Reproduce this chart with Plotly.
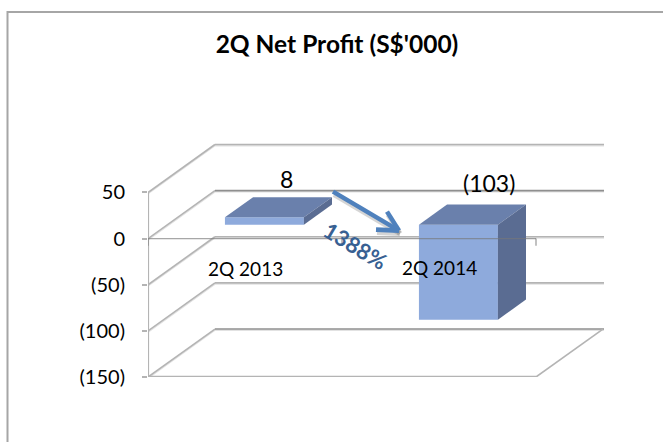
import plotly.graph_objects as go

# ---- data ----
categories = ["2Q 2013", "2Q 2014"]
values = [8, -103]
value_labels = ["8", "(103)"]
tick_values = [50, 0, -50, -100, -150]
tick_labels = ["50", "0", "(50)", "(100)", "(150)"]
title_text = "2Q Net Profit (S$'000)"
change_text = "1388%"

# ---- oblique projection settings (axis units) ----
W, H = 663, 442
DEPTH_X = 0.345      # x shift of back wall
DEPTH_Y = 52.0       # value shift of back wall
BAR_FRONT, BAR_BACK = 0.29, 0.71
BAR_W = 0.407
X_MAX = 2.3505
Y_MIN, Y_MAX = -150, 106.9
FONT = "Lato, Carlito, Calibri, sans-serif"
GRID = "#b4b4b4"
SHADOW = "#e2e2e2"
C_FRONT, C_TOP, C_SIDE = "#8eaadc", "#6a80ac", "#5a6c92"

def proj(x, v, d):
    return x + d * DEPTH_X, v + d * DEPTH_Y

def pos(px, py):
    """pixel position -> axis units, for decorations only"""
    return (px - 148) / 194.0, (239 - py) / 0.9225

shapes = []
def seg(xs, ys, color, width, layer="below", opacity=1.0):
    path = "M" + " L".join(f"{a},{b}" for a, b in zip(xs, ys))
    shapes.append(dict(type="path", xref="x", yref="y", path=path, layer=layer, opacity=opacity,
                       line=dict(color=color, width=width)))

# walls: side diagonal plus back gridline for each tick
for tv in tick_values:
    bx, by = proj(0, tv, 1)
    c = "#8f8f8f" if tv in (0, -150) else GRID
    seg([0, bx, X_MAX], [tv - 1.3, by - 1.3, by - 1.3], SHADOW, 1.5)
    seg([0, bx], [tv, by], GRID, 1.6)
    seg([bx, X_MAX], [by, by], c, 1.6)

# floor
fx, fy = proj(2, -150, 1)
seg([0, 2], [-151.5, -151.5], SHADOW, 2)
seg([0, 2], [-150, -150], GRID, 2.4)
seg([2, fx], [-150, fy], GRID, 1.6)

fig = go.Figure()

# bar front faces
fig.add_trace(go.Bar(
    x=[i + 0.5 + BAR_FRONT * DEPTH_X for i in range(len(values))],
    y=values,
    base=[BAR_FRONT * DEPTH_Y] * len(values),
    width=BAR_W,
    marker=dict(color=C_FRONT, line=dict(width=0)),
    hoverinfo="skip",
    showlegend=False,
))

# bar top and side faces
for i, v in enumerate(values):
    l, r = i + 0.5 - BAR_W / 2, i + 0.5 + BAR_W / 2
    hi, lo = max(v, 0), min(v, 0)
    a = proj(l, hi, BAR_FRONT); b = proj(r, hi, BAR_FRONT)
    c = proj(r, hi, BAR_BACK);  d = proj(l, hi, BAR_BACK)
    e = proj(r, lo, BAR_FRONT); f = proj(r, lo, BAR_BACK)
    for pts, col in (([a, b, c, d, a], C_TOP), ([b, c, f, e, b], C_SIDE)):
        fig.add_trace(go.Scatter(
            x=[p[0] for p in pts], y=[p[1] for p in pts], mode="lines", fill="toself",
            fillcolor=col, line=dict(width=0), hoverinfo="skip", showlegend=False))

# front vertical axis
fig.add_trace(go.Scatter(x=[0, 0], y=[tick_values[-1], tick_values[0]], mode="lines",
                         line=dict(color=GRID, width=2.2), hoverinfo="skip", showlegend=False))
# front zero line with category ticks
xa, ya = [], []
for t in range(len(categories) + 1):
    xa += [t, t, None]; ya += [0, -7.6, None]
fig.add_trace(go.Scatter(x=[0, 2, None] + xa, y=[0, 0, None] + ya, mode="lines",
                         line=dict(color="rgba(120,120,120,0.65)", width=1.4),
                         hoverinfo="skip", showlegend=False))

annotations = []
def text(px, py, s, size, color="#000000", angle=0, bold=False):
    x, y = pos(px, py)
    annotations.append(dict(x=x, y=y, xref="x", yref="y", text=f"<b>{s}</b>" if bold else s,
                            showarrow=False, textangle=angle, xanchor="center", yanchor="middle",
                            font=dict(family=FONT, size=size, color=color)))

text(286, 179, value_labels[0], 23)
text(489, 183, value_labels[1], 23)
text(245, 269, categories[0], 19)
text(439, 268, categories[1], 19)
text(355, 246, change_text, 22, color="#376092", angle=31, bold=True)

# change arrow
arrow = [((333, 192), (399, 231)), ((387, 212), (399, 231)), ((376, 230), (399, 231))]
for dx, dy, col, wid, op in ((1, 3, "#777777", 5, 0.3), (0, 0, "#4f81bd", 4.6, 1.0)):
    for p, q in arrow:
        a, b = pos(p[0] + dx, p[1] + dy), pos(q[0] + dx, q[1] + dy)
        seg([a[0], b[0]], [a[1], b[1]], col, wid, layer="above", opacity=op)

# chart border (left and top only are visible in the crop)
shapes.append(dict(type="path", xref="paper", yref="paper",
                   path=f"M{7.5/W},0 L{7.5/W},{1-12/H} L1,{1-12/H}",
                   line=dict(color="#a6a6a6", width=2), layer="below"))

fig.update_layout(
    width=W, height=H, autosize=False,
    margin=dict(l=0, r=0, t=0, b=0, autoexpand=False),
    paper_bgcolor="white", plot_bgcolor="white",
    barmode="overlay",
    showlegend=False,
    title=dict(text=f"<b>{title_text}</b>", x=337 / W, xanchor="center", y=1 - 44 / H, yanchor="middle",
               font=dict(family=FONT, size=24.5, color="#000000")),
    xaxis=dict(domain=[148 / W, 604 / W], range=[0, X_MAX], showgrid=False, zeroline=False,
               showticklabels=False, ticks="", showline=False, fixedrange=True),
    yaxis=dict(domain=[(H - 377) / H, (H - 140) / H], range=[Y_MIN, Y_MAX], showgrid=False, zeroline=False,
               tickmode="array", tickvals=tick_values, ticktext=tick_labels,
               ticks="outside", ticklen=5, tickcolor=GRID, tickwidth=1.5, showline=False,
               ticklabelstandoff=13,
               tickfont=dict(family=FONT, size=20, color="#000000"), fixedrange=True),
    shapes=shapes,
    annotations=annotations,
)

fig.write_html("out.html", config=dict(displayModeBar=False),
               post_script="document.body.style.margin='0';")
